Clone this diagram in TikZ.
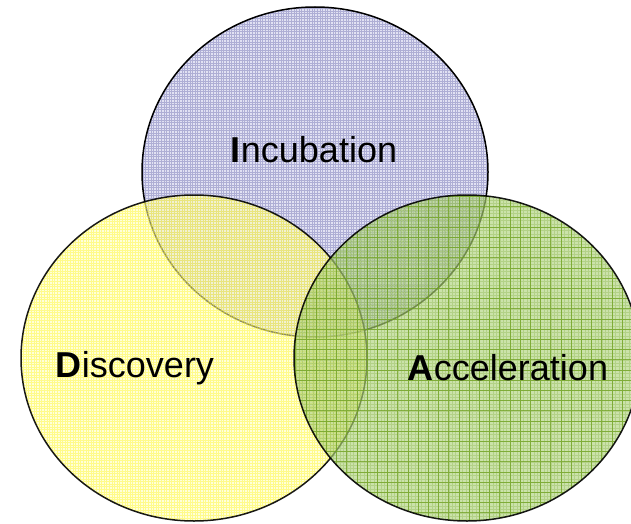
\documentclass[tikz,border=0pt]{standalone}
\usepackage{fontspec}
\setmainfont{Liberation Sans}
\definecolor{bluebase}{RGB}{218,218,240}
\definecolor{blueline}{RGB}{80,80,160}
\definecolor{yelbase}{RGB}{255,255,185}
\definecolor{yelline}{RGB}{255,245,20}
\definecolor{grnbase}{RGB}{175,210,125}
\definecolor{grnline}{RGB}{110,160,30}
\tikzset{
  circ/.style={draw=black, line width=1.5pt},
  lbl/.style={font=\fontsize{36}{40}\selectfont, inner sep=0pt}
}
\begin{document}
\begin{tikzpicture}[x=1pt,y=1pt]
\useasboundingbox (0,0) rectangle (631,523);
\coordinate (B) at (315,351);
\coordinate (Y) at (194,165);
\coordinate (G) at (467,165);
% Incubation
\begin{scope}
  \clip (B) ellipse [x radius=173pt, y radius=165pt];
  \fill[bluebase, fill opacity=0.8] (130,170) rectangle (500,523);
  \draw[blueline, draw opacity=0.35, line width=0.5pt, step=2.6pt] (130,170) grid (500,523);
\end{scope}
\draw[circ] (B) ellipse [x radius=173pt, y radius=165pt];
% Discovery
\begin{scope}
  \clip (Y) ellipse [x radius=173pt, y radius=163pt];
  \fill[yelbase, fill opacity=0.55] (10,0) rectangle (380,340);
  \draw[yelline, draw opacity=0.4, line width=0.5pt, step=2.6pt] (10,0) grid (380,340);
\end{scope}
\draw[circ, draw opacity=0.9] (Y) ellipse [x radius=173pt, y radius=163pt];
% Acceleration
\begin{scope}
  \clip (G) ellipse [x radius=173pt, y radius=163pt];
  \fill[grnbase, fill opacity=0.65] (280,0) rectangle (650,340);
  \draw[grnline, draw opacity=0.25, line width=0.4pt, step=3.4pt] (280,0) grid (650,340);
  \draw[grnline, draw opacity=0.75, line width=0.8pt, step=10.2pt] (280,0) grid (650,340);
\end{scope}
\draw[circ, draw opacity=0.9] (G) ellipse [x radius=173pt, y radius=163pt];
% labels
\node[lbl] (inc) at (314,373) {\textbf{I}ncubation};
\node[lbl] (dis) at (135,155) {\textbf{D}iscovery};
\node[lbl] (acc) at (508,155) {\textbf{A}cceleration};
\end{tikzpicture}
\end{document}
